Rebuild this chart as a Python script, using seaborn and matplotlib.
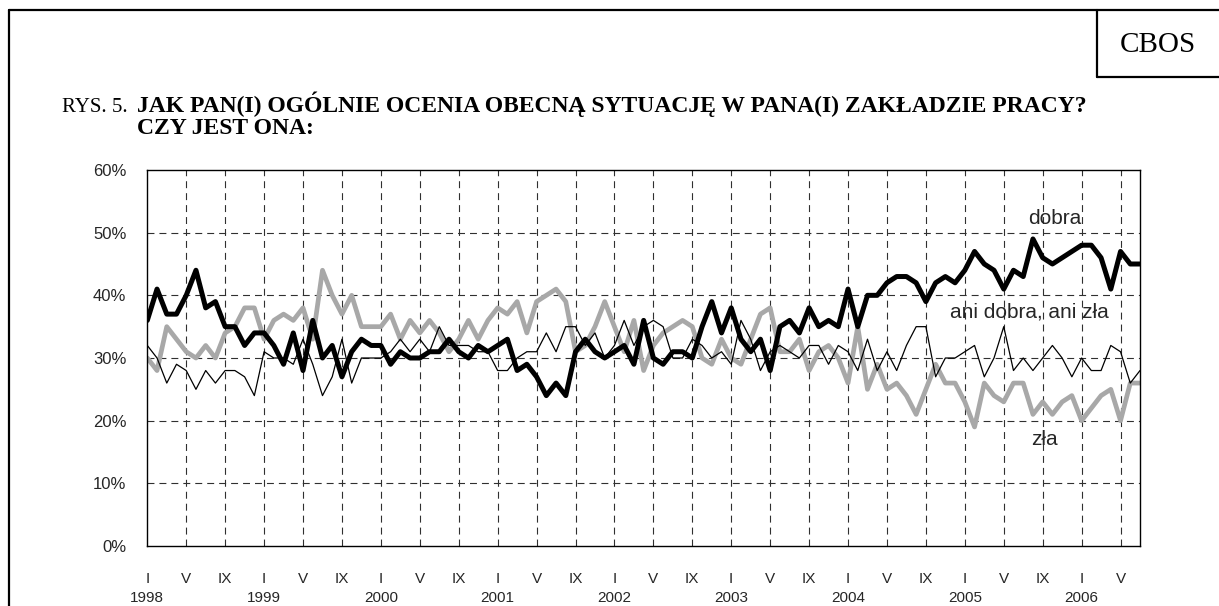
import numpy as np
import pandas as pd
import matplotlib
matplotlib.use("Agg")
import matplotlib.pyplot as plt
from matplotlib.lines import Line2D
import seaborn as sns

# ---- data (monthly, I 1998 .. VII 2006) ----
years = list(range(1998, 2007))
month_labels = ["I", "V", "IX"]

dobra = [36, 41, 37, 37, 40, 44, 38, 39, 35, 35, 32, 34, 34, 32, 29, 34, 28, 36, 30, 32, 27,
         31, 33, 32, 32, 29, 31, 30, 30, 31, 31, 33, 31, 30, 32, 31, 32, 33, 28, 29, 27,
         24, 26, 24, 31, 33, 31, 30, 31, 32, 29, 36, 30, 29, 31, 31, 30, 35, 39, 34, 38, 33,
         31, 33, 28, 35, 36, 34, 38, 35, 36, 35, 41, 35, 40, 40, 42, 43, 43, 42, 39, 42,
         43, 42, 44, 47, 45, 44, 41, 44, 43, 49, 46, 45, 46, 47, 48, 48, 46, 41, 47, 45, 45]

zla = [30, 28, 35, 33, 31, 30, 32, 30, 34, 35, 38, 38, 33, 36, 37, 36, 38, 33, 44, 40, 37,
       40, 35, 35, 35, 37, 33, 36, 34, 36, 34, 31, 33, 36, 33, 36, 38, 37, 39, 34, 39,
       40, 41, 39, 31, 32, 35, 39, 35, 31, 36, 28, 32, 34, 35, 36, 35, 30, 29, 33, 30, 29,
       33, 37, 38, 31, 31, 33, 28, 31, 32, 30, 26, 35, 25, 29, 25, 26, 24, 21, 25, 29,
       26, 26, 23, 19, 26, 24, 23, 26, 26, 21, 23, 21, 23, 24, 20, 22, 24, 25, 20, 26, 26]

ani = [32, 30, 26, 29, 28, 25, 28, 26, 28, 28, 27, 24, 31, 30, 30, 29, 33, 29, 24, 27, 33,
       26, 30, 30, 30, 31, 33, 31, 33, 31, 35, 32, 32, 32, 31, 31, 28, 28, 30, 31, 31,
       34, 31, 35, 35, 32, 34, 30, 32, 36, 32, 35, 36, 35, 30, 30, 33, 32, 30, 31, 29, 36,
       33, 28, 31, 32, 31, 30, 32, 32, 29, 32, 31, 28, 33, 28, 31, 28, 32, 35, 35, 27,
       30, 30, 31, 32, 27, 30, 35, 28, 30, 28, 30, 32, 30, 27, 30, 28, 28, 32, 31, 26, 28]

series_labels = ["dobra", "ani dobra, ani zła", "zła"]

n = len(dobra)
idx = np.arange(n)
df = pd.DataFrame({"m": np.concatenate([idx, idx, idx]),
                   "v": dobra + ani + zla,
                   "s": ["dobra"] * n + ["ani"] * n + ["zla"] * n})

sns.set_style("white")
plt.rcParams["font.family"] = ["Liberation Sans", "DejaVu Sans"]
plt.rcParams["lines.scale_dashes"] = False

W, H = 1219, 606
fig = plt.figure(figsize=(W / 100, H / 100), dpi=100)
ax = fig.add_axes([147.3 / W, 1 - 546 / H, (1140 - 147.3) / W, (546 - 170) / H])

grid_kw = dict(color="#303030", lw=0.8, dashes=(5.0, 3.6), zorder=0)
for yv in range(10, 60, 10):
    ax.axhline(yv, **grid_kw)
for xv in range(4, n, 4):
    ax.axvline(xv, **grid_kw)

sns.lineplot(data=df[df.s == "ani"], x="m", y="v", color="black", lw=0.9, ax=ax, zorder=3)
sns.lineplot(data=df[df.s == "zla"], x="m", y="v", color="#a8a8a8", lw=3.4, ax=ax, zorder=2)
sns.lineplot(data=df[df.s == "dobra"], x="m", y="v", color="black", lw=3.6, ax=ax, zorder=4)

ax.set_xlim(0, n - 1)
ax.set_ylim(0, 60)
ax.set_xlabel("")
ax.set_ylabel("")

# x ticks
major = list(range(0, n, 4))
labels = []
for m in major:
    k = m % 12
    if k == 0:
        labels.append("I\n" + str(years[m // 12]))
    elif k == 4:
        labels.append("V")
    else:
        labels.append("IX")
ax.set_xticks(major)
ax.set_xticklabels(labels, fontsize=11, linespacing=1.45)
ax.set_xticks(range(0, n), minor=True)
ax.tick_params(axis="x", which="major", direction="inout", length=12, width=0.9, pad=12.5, color="black")
ax.tick_params(axis="x", which="minor", direction="out", length=5, width=0.9, color="black")

ax.set_yticks(range(0, 61, 10))
ax.set_yticklabels([f"{v}%" for v in range(0, 61, 10)], fontsize=12)
ax.tick_params(axis="y", which="major", direction="out", length=6, width=0.9, pad=9, color="black")

for sp in ax.spines.values():
    sp.set_color("black")
    sp.set_linewidth(1.0)
    sp.set_visible(True)

# series annotations
ax.text(93.2, 52.3, series_labels[0], fontsize=15, ha="center", va="center")
ax.text(90.6, 37.3, series_labels[1], fontsize=15, ha="center", va="center")
ax.text(92.2, 17.0, series_labels[2], fontsize=15, ha="center", va="center")

# page frame
def px(x, y):
    return x / W, 1 - y / H

fig.add_artist(Line2D([px(9, 0)[0], 1.0], [px(0, 10)[1]] * 2, color="black", lw=1.6))
fig.add_artist(Line2D([px(9, 0)[0]] * 2, [px(0, 10)[1], 0.0], color="black", lw=1.6))
fig.add_artist(Line2D([px(1097, 0)[0]] * 2, [px(0, 10)[1], px(0, 77)[1]], color="black", lw=1.6))
fig.add_artist(Line2D([px(1097, 0)[0], 1.0], [px(0, 77)[1]] * 2, color="black", lw=1.6))

serif = ["Liberation Serif", "DejaVu Serif"]
fig.text(*px(1158, 45), "CBOS", family=serif, fontsize=21, ha="center", va="center", color="black")
fig.text(*px(62, 112), "RYS. 5.", family=serif, fontsize=15, ha="left", va="baseline", color="black")
fig.text(*px(137, 112), "JAK PAN(I) OGÓLNIE OCENIA OBECNĄ SYTUACJĘ W PANA(I) ZAKŁADZIE PRACY?",
         family=serif, fontsize=17, fontweight="bold", ha="left", va="baseline", color="black")
fig.text(*px(137, 134), "CZY JEST ONA:", family=serif, fontsize=17, fontweight="bold",
         ha="left", va="baseline", color="black")

fig.savefig("out.png", dpi=100)
